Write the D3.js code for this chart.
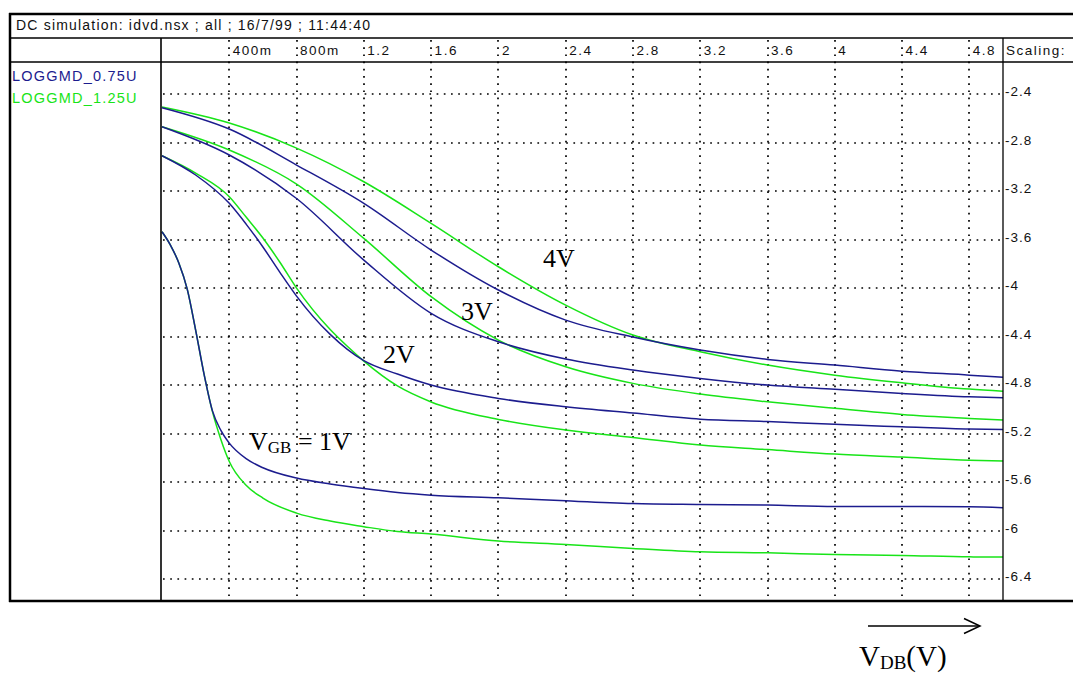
<!DOCTYPE html>
<html><head><meta charset="utf-8">
<script src="https://cdn.jsdelivr.net/npm/d3@7"></script>
<style>body{margin:0;background:#fff}</style>
</head><body><svg id="c" width="1073" height="673"></svg>
<script>
// ---- data ----
const xTicks = [0.4,0.8,1.2,1.6,2.0,2.4,2.8,3.2,3.6,4.0,4.4,4.8];
const xTickLabels = ["400m","800m","1.2","1.6","2","2.4","2.8","3.2","3.6","4","4.4","4.8"];
const yTicks = [-2.4,-2.8,-3.2,-3.6,-4.0,-4.4,-4.8,-5.2,-5.6,-6.0,-6.4];
const yTickLabels = ["-2.4","-2.8","-3.2","-3.6","-4","-4.4","-4.8","-5.2","-5.6","-6","-6.4"];
const seriesNames = ["LOGGMD_0.75U","LOGGMD_1.25U"];

const vdbA = [0,0.4,0.8,1.2,1.6,2.0,2.4,2.8,3.2,3.6,4.0,4.4,4.8,5.0];
const vdb2 = [0,0.2,0.4,0.5,0.6,0.7,0.8,1.0,1.1,1.2,1.4,1.6,2.0,2.4,2.8,3.2,3.6,4.0,4.4,4.8,5.0];
const vdb1 = [0,0.05,0.1,0.15,0.2,0.25,0.3,0.35,0.4,0.5,0.6,0.8,1.0,1.2,1.4,1.6,2.0,2.4,2.8,3.2,3.6,4.0,4.4,4.8,5.0];

const u075_4V = [-2.511,-2.687,-2.984,-3.300,-3.685,-4.015,-4.263,-4.403,-4.510,-4.587,-4.634,-4.684,-4.717,-4.735];
const u125_4V = [-2.505,-2.637,-2.844,-3.122,-3.465,-3.823,-4.139,-4.386,-4.524,-4.634,-4.717,-4.780,-4.832,-4.849];
const u075_3V = [-2.668,-2.901,-3.260,-3.768,-4.207,-4.442,-4.584,-4.675,-4.744,-4.799,-4.834,-4.868,-4.896,-4.904];
const u125_3V = [-2.668,-2.860,-3.141,-3.589,-4.070,-4.428,-4.648,-4.785,-4.873,-4.937,-4.991,-5.041,-5.074,-5.088];
const u075_2V = [-2.907,-3.066,-3.300,-3.471,-3.660,-3.867,-4.065,-4.381,-4.502,-4.597,-4.708,-4.799,-4.909,-4.978,-5.030,-5.080,-5.100,-5.123,-5.143,-5.162,-5.165];
const u125_2V = [-2.907,-3.050,-3.245,-3.413,-3.586,-3.784,-3.999,-4.341,-4.477,-4.601,-4.806,-4.938,-5.082,-5.170,-5.231,-5.294,-5.331,-5.368,-5.393,-5.418,-5.426];
const u075_1V = [-3.534,-3.644,-3.792,-4.007,-4.345,-4.708,-5.012,-5.173,-5.278,-5.406,-5.481,-5.566,-5.615,-5.653,-5.685,-5.707,-5.729,-5.754,-5.775,-5.783,-5.789,-5.800,-5.800,-5.803,-5.811];
const u125_1V = [-3.534,-3.644,-3.792,-4.007,-4.345,-4.708,-5.018,-5.247,-5.429,-5.625,-5.731,-5.855,-5.921,-5.967,-6.007,-6.028,-6.086,-6.113,-6.146,-6.174,-6.183,-6.196,-6.204,-6.216,-6.218];

// ---- drawing ----
const NAVY = "#1c1c8e", GREEN = "#18e418";
const svg = d3.select("#c");
svg.append("rect").attr("width",1073).attr("height",673).attr("fill","#fff");

const x = d3.scaleLinear().domain([0,5]).range([162,1003]);
const y = d3.scaleLinear().domain([-6.58,-2.134]).range([601,62]);

const grid = svg.append("g").attr("stroke","#000").attr("stroke-width",1.7).attr("stroke-dasharray","1.7,5.5");
grid.selectAll("line.v").data(xTicks).join("line").attr("class","v")
  .attr("x1",d=>Math.round(x(d))).attr("x2",d=>Math.round(x(d))).attr("y1",40).attr("y2",600);
grid.selectAll("line.h").data(yTicks).join("line").attr("class","h")
  .attr("x1",163).attr("x2",1002).attr("y1",d=>Math.round(y(d))).attr("y2",d=>Math.round(y(d)));

const line = d3.line().x(d=>x(d[0])).y(d=>y(d[1])).curve(d3.curveMonotoneX);
const series = [
  [vdb1,u125_1V,GREEN],[vdb1,u075_1V,NAVY],
  [vdb2,u125_2V,GREEN],[vdb2,u075_2V,NAVY],
  [vdbA,u125_3V,GREEN],[vdbA,u075_3V,NAVY],
  [vdbA,u125_4V,GREEN],[vdbA,u075_4V,NAVY]
];
svg.append("g").selectAll("path").data(series).join("path")
  .attr("d",s=>line(s[0].map((v,i)=>[v,s[1][i]])))
  .attr("fill","none").attr("stroke",s=>s[2]).attr("stroke-width",1.5);

// frame
const fr = svg.append("g").attr("stroke","#000");
fr.append("line").attr("x1",9).attr("x2",1073).attr("y1",14).attr("y2",14).attr("stroke-width",2.5);
fr.append("line").attr("x1",10).attr("x2",10).attr("y1",13).attr("y2",602).attr("stroke-width",2.5);
fr.append("line").attr("x1",9).attr("x2",1073).attr("y1",601).attr("y2",601).attr("stroke-width",2.5);
fr.append("line").attr("x1",10).attr("x2",1073).attr("y1",38).attr("y2",38).attr("stroke-width",1.3);
fr.append("line").attr("x1",10).attr("x2",1073).attr("y1",62).attr("y2",62).attr("stroke-width",1.3);
fr.append("line").attr("x1",161).attr("x2",161).attr("y1",38).attr("y2",601).attr("stroke-width",1.6);
fr.append("line").attr("x1",1003).attr("x2",1003).attr("y1",38).attr("y2",601).attr("stroke-width",1.3);

const SANS = "'Liberation Sans', Arial, sans-serif";
const SERIF = "'Liberation Serif', 'Times New Roman', serif";

svg.append("text").attr("x",16).attr("y",30).attr("font-family",SANS).attr("font-size",14)
  .attr("textLength",354).attr("lengthAdjust","spacing").attr("fill","#111")
  .text("DC simulation: idvd.nsx ; all ; 16/7/99 ; 11:44:40");

// x axis labels
const xa = svg.append("g").attr("transform","translate(0,55)")
  .call(d3.axisBottom(x).tickValues(xTicks).tickFormat((d,i)=>xTickLabels[i]).tickSize(0));
xa.select(".domain").remove();
xa.selectAll("text").attr("y",0).attr("dy",null).attr("x",3).attr("text-anchor","start")
  .attr("font-family",SANS).attr("font-size",13.5).attr("letter-spacing",1.5).attr("fill","#111");
svg.append("text").attr("x",1006).attr("y",55).attr("font-family",SANS).attr("font-size",13.5)
  .attr("letter-spacing",1.5).attr("fill","#111").text("Scaling:");

// y axis labels
const ya = svg.append("g").attr("transform","translate(1003,0)")
  .call(d3.axisRight(y).tickValues(yTicks).tickFormat((d,i)=>yTickLabels[i]).tickSize(0));
ya.select(".domain").remove();
ya.selectAll("text").attr("x",2).attr("dy","0.12em").attr("font-family",SANS).attr("font-size",13.5)
  .attr("letter-spacing",1).attr("fill","#111");

// legend
svg.append("g").selectAll("text").data(seriesNames).join("text")
  .attr("x",12).attr("y",(d,i)=>81+i*22).attr("font-family",SANS).attr("font-size",14.5)
  .attr("letter-spacing",1.2).attr("fill",(d,i)=>i===0?NAVY:GREEN).text(d=>d);

// curve labels
const lab = svg.append("g").attr("font-family",SERIF).attr("font-size",26).attr("fill","#000");
lab.append("text").attr("x",543).attr("y",267).text("4V");
lab.append("text").attr("x",461).attr("y",320).text("3V");
lab.append("text").attr("x",383).attr("y",363).text("2V");
const vgb = lab.append("text").attr("x",249).attr("y",450);
vgb.append("tspan").text("V");
vgb.append("tspan").attr("font-size",17).attr("dy",3).text("GB");
vgb.append("tspan").attr("dy",-3).text(" = 1V");

// x arrow + title
svg.append("line").attr("x1",868).attr("x2",979).attr("y1",626).attr("y2",626).attr("stroke","#000").attr("stroke-width",1.5);
svg.append("path").attr("d","M964,618.5 L980,626 L964,633.5").attr("fill","none").attr("stroke","#000").attr("stroke-width",1.5);
const vdb = svg.append("text").attr("x",859).attr("y",666).attr("font-family",SERIF).attr("font-size",29);
vdb.append("tspan").text("V");
vdb.append("tspan").attr("font-size",19).attr("dy",3).text("DB");
vdb.append("tspan").attr("dy",-3).text("(V)");
</script></body></html>
